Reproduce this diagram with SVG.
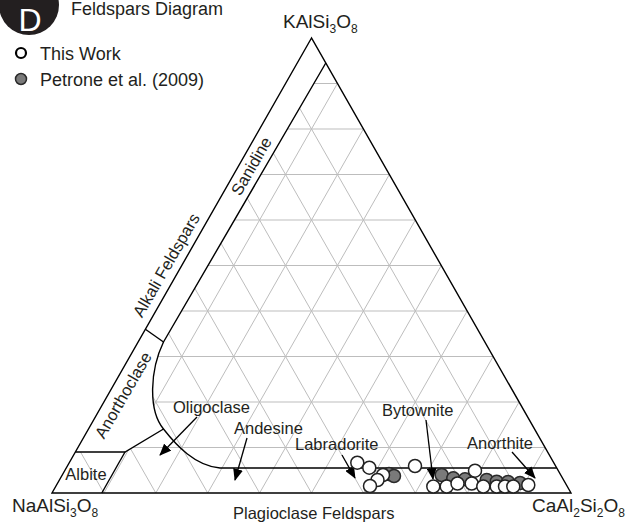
<svg xmlns="http://www.w3.org/2000/svg" width="631" height="524" viewBox="0 0 631 524">
<style>
.t{font-family:"Liberation Sans",Arial,sans-serif;fill:#231f20}
.lab{font-size:16.5px}
.vx{font-size:19px}
.sub{font-size:12px}
.grid{stroke:#bdbdbd;stroke-width:1;fill:none}
.ln{stroke:#000;stroke-width:1.4;fill:none}
.arr{stroke:#000;stroke-width:1.3;fill:none;marker-end:url(#ah)}
.w{fill:#fff;stroke:#222;stroke-width:1.5}
.g{fill:#7a7a7a;stroke:#2a2a2a;stroke-width:1.5}
</style>
<defs>
<marker id="ah" markerUnits="userSpaceOnUse" markerWidth="12" markerHeight="10" refX="11" refY="5" orient="auto">
<path d="M0,0 L12,5 L0,10 z" fill="#000"/>
</marker>
<clipPath id="gc">
<path d="M52,493 L75.4,452 L125,452 L163.5,429 C148,410 150,370 163.5,342 L325.8,63 L571,493 Z"/>
</clipPath>
</defs>
<rect width="631" height="524" fill="#fff"/>

<g id="grid" class="grid" clip-path="url(#gc)">
<path d="M77.95,447.5H545.05M103.9,402H519.1M129.85,356.5H493.15M155.8,311H467.2M181.75,265.5H441.25M207.7,220H415.3M233.65,174.5H389.35M259.6,129H363.4M285.55,83.5H337.45"/>
<path d="M103.9,493L337.45,83.5M155.8,493L363.4,129M207.7,493L389.35,174.5M259.6,493L415.3,220M311.5,493L441.25,265.5M363.4,493L467.2,311M415.3,493L493.15,356.5M467.2,493L519.1,402M519.1,493L545.05,447.5"/>
<path d="M103.9,493L77.95,447.5M155.8,493L103.9,402M207.7,493L129.85,356.5M259.6,493L155.8,311M311.5,493L181.75,265.5M363.4,493L207.7,220M415.3,493L233.65,174.5M467.2,493L259.6,129M519.1,493L285.55,83.5"/>
</g>

<g id="fields" class="ln">
<path d="M311.5,38 L52,493 L571,493 Z"/>
<path d="M325.8,63 L163.5,342 C150,370 148,410 163.5,429 C176,445 195,466 220,468 L556.7,468"/>
<path d="M145.4,329.3 L163.5,342"/>
<path d="M163.5,429 L125,452 L75.4,452"/>
<path d="M125,452 L101.8,493"/>
</g>

<g id="connectors">
<path class="arr" d="M197,417 L160,455"/>
<path class="arr" d="M247,438 L235,480"/>
<path class="arr" d="M342,455 L355,478"/>
<path class="arr" d="M426,420 L433,479"/>
<path class="arr" d="M512,452 L535,478"/>
</g>

<g id="data-petrone">
<circle class="g" cx="389" cy="474" r="6.5"/>
<circle class="g" cx="394" cy="476" r="6.5"/>
<circle class="g" cx="441.7" cy="475" r="6.5"/>
<circle class="g" cx="453.3" cy="478.3" r="6.5"/>
<circle class="g" cx="465" cy="479.3" r="6.5"/>
<circle class="g" cx="486.7" cy="480" r="6.5"/>
<circle class="g" cx="496.7" cy="481.7" r="6.5"/>
<circle class="g" cx="508" cy="482" r="6.5"/>
<circle class="g" cx="520" cy="483" r="6.5"/>
</g>
<g id="data-thiswork">
<circle class="w" cx="357.3" cy="462.7" r="6.5"/>
<circle class="w" cx="369.3" cy="467.7" r="6.5"/>
<circle class="w" cx="383" cy="475" r="6.5"/>
<circle class="w" cx="377.5" cy="480" r="6.5"/>
<circle class="w" cx="370" cy="486" r="6.5"/>
<circle class="w" cx="415" cy="466" r="6.5"/>
<circle class="w" cx="475" cy="470.7" r="6.5"/>
<circle class="w" cx="433.3" cy="486.5" r="6.5"/>
<circle class="w" cx="446.7" cy="486.5" r="6.5"/>
<circle class="w" cx="457.5" cy="483.5" r="6.5"/>
<circle class="w" cx="471.7" cy="483.5" r="6.5"/>
<circle class="w" cx="483.3" cy="486.5" r="6.5"/>
<circle class="w" cx="496.7" cy="486.5" r="6.5"/>
<circle class="w" cx="505" cy="486.5" r="6.5"/>
<circle class="w" cx="513.3" cy="486.5" r="6.5"/>
<circle class="w" cx="528.3" cy="485" r="6.5"/>
</g>

<g id="field-labels" class="t lab">
<text x="166" y="271" text-anchor="middle" transform="rotate(-60 166 265)">Alkali Feldspars</text>
<text x="251" y="172" text-anchor="middle" transform="rotate(-60 251 166)">Sanidine</text>
<text x="123" y="401" text-anchor="middle" transform="rotate(-60 123 395)">Anorthoclase</text>
<text x="86" y="480" text-anchor="middle">Albite</text>
<text x="173" y="413">Oligoclase</text>
<text x="234" y="434">Andesine</text>
<text x="295" y="450">Labradorite</text>
<text x="382" y="416">Bytownite</text>
<text x="467" y="449">Anorthite</text>
<text x="233" y="519">Plagioclase Feldspars</text>
</g>

<g id="vertex-labels" class="t vx">
<text x="283" y="28">KAlSi<tspan class="sub" dy="5">3</tspan><tspan dy="-5">O</tspan><tspan class="sub" dy="5">8</tspan></text>
<text x="12" y="512">NaAlSi<tspan class="sub" dy="5">3</tspan><tspan dy="-5">O</tspan><tspan class="sub" dy="5">8</tspan></text>
<text x="532" y="512">CaAl<tspan class="sub" dy="5">2</tspan><tspan dy="-5">Si</tspan><tspan class="sub" dy="5">2</tspan><tspan dy="-5">O</tspan><tspan class="sub" dy="5">8</tspan></text>
</g>

<g id="badge">
<circle cx="29" cy="5" r="30" fill="#231f20"/>
<text x="30" y="31" text-anchor="middle" font-family="Liberation Sans,Arial,sans-serif" font-size="32" fill="#fff">D</text>
</g>
<text class="t" x="71" y="15" font-size="18">Feldspars Diagram</text>

<g id="legend">
<circle cx="21" cy="53" r="5" fill="#fff" stroke="#000" stroke-width="2.2"/>
<text class="t" x="40" y="59.5" font-size="18">This Work</text>
<circle cx="21" cy="79" r="5.5" fill="#7a7a7a" stroke="#2a2a2a" stroke-width="1.5"/>
<text class="t" x="40" y="85.5" font-size="18">Petrone et al. (2009)</text>
</g>
</svg>
